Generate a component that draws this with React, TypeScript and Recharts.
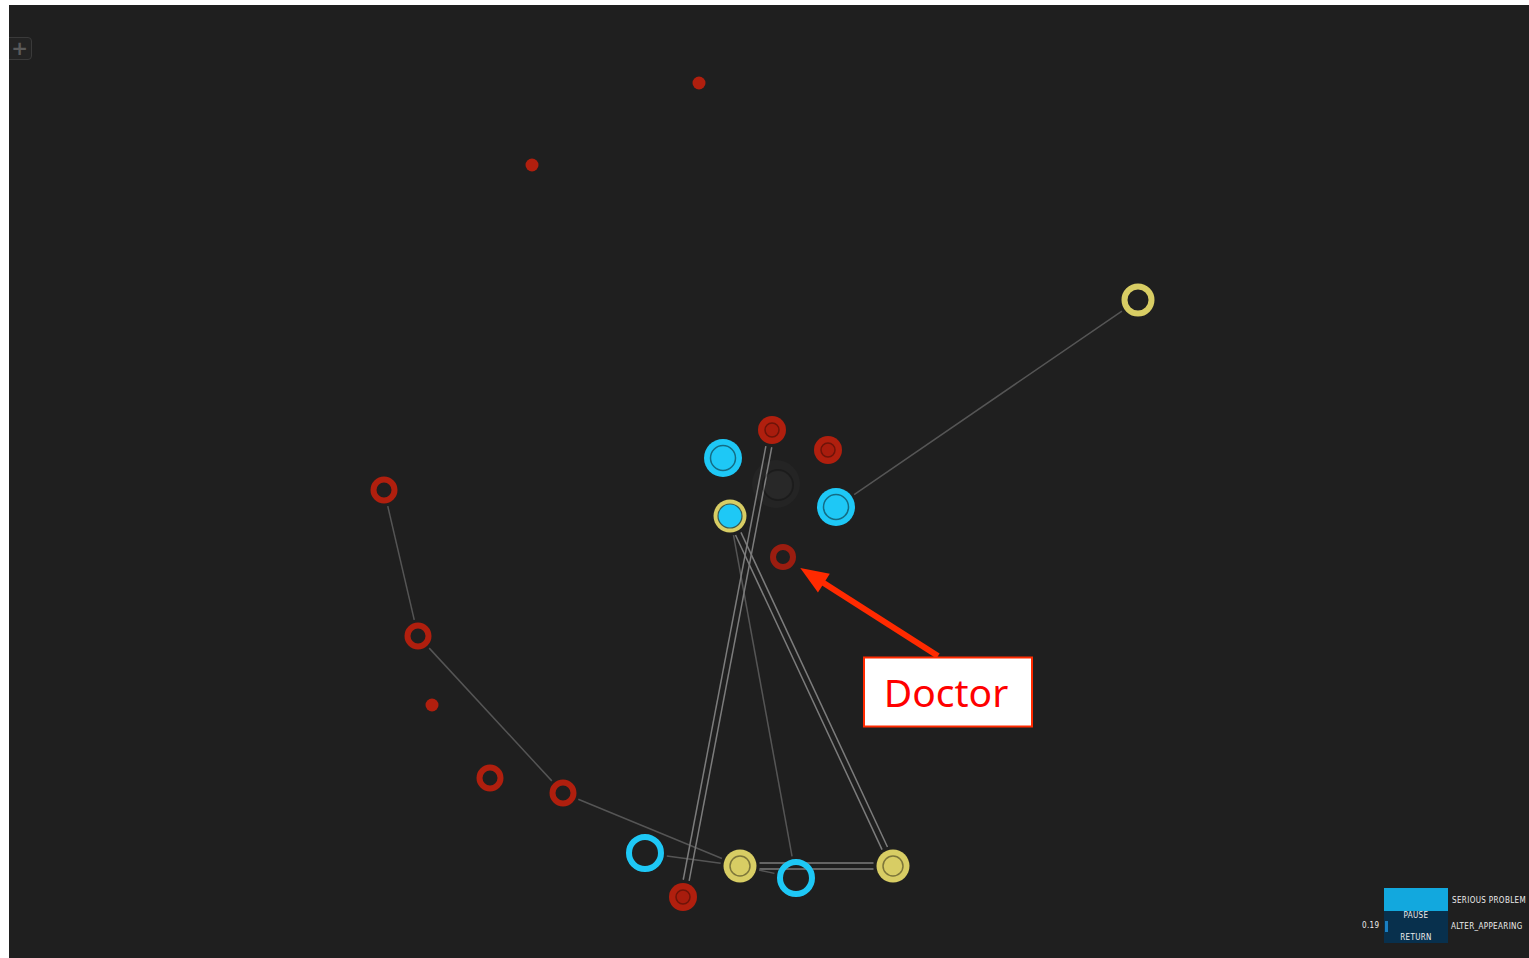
import React from "react";
import { ScatterChart, Scatter, XAxis, YAxis, ReferenceLine, ReferenceDot } from "recharts";

const W = 1520;
const H = 953;
const LEFT = 9;
const TOP = 5;

// graph nodes (layout position in screen units)
const nodeX = [699, 532, 1138, 772, 828, 723, 776, 836, 730, 783, 384, 418, 432, 490, 563, 645, 740, 796, 893, 683];
const nodeY = [83, 165, 300, 430, 450, 458, 484, 507, 516, 557, 490, 636, 705, 778, 793, 853, 866, 878, 866, 897];
const nodeKind = [
  "dot", "dot", "yellowRing", "redCore", "redCore", "blueCore", "ghost", "blueCore", "yellowBlue", "redRingDim",
  "redRing", "redRing", "dot", "redRing", "redRing", "blueRing", "yellowCore", "blueRing", "yellowCore", "redCore",
];

// links between nodes (indices), double = two parallel links
const edgeFrom = [2, 10, 11, 14, 15, 16, 16, 8, 8, 3];
const edgeTo = [7, 11, 14, 16, 16, 18, 17, 17, 18, 19];
const edgeDouble = [false, false, false, false, false, true, false, false, true, true];

// annotation
const noteText = "Doctor";
const noteTarget = 9;
const noteAnchor = { x: 948, y: 692 };

// legend
const legendValue = "0.19";
const legendTop = "SERIOUS PROBLEM";
const legendBottom = "ALTER_APPEARING";
const legendButtons = ["PAUSE", "RETURN"];

const RED = "#b01f0e";
const BLUE = "#1ec8f6";
const YELLOW = "#d8cd64";

const radius: Record<string, number> = {
  dot: 6.5, redRing: 13.5, redRingDim: 13.5, redCore: 14, blueCore: 19, blueRing: 19,
  yellowRing: 16.5, yellowCore: 16.5, yellowBlue: 16.5, ghost: 24,
};

const nodes = nodeX.map((x, i) => ({ x, y: nodeY[i], kind: nodeKind[i] }));

function Node(p: any) {
  const { cx, cy } = p;
  const kind = p.payload.kind;
  switch (kind) {
    case "dot":
      return <circle cx={cx} cy={cy} r={6.5} fill={RED} />;
    case "redRing":
      return <circle cx={cx} cy={cy} r={10.5} fill="none" stroke={RED} strokeWidth={6} />;
    case "redRingDim":
      return <circle cx={cx} cy={cy} r={10} fill="none" stroke="#9b1d10" strokeWidth={6} />;
    case "redCore":
      return (
        <g>
          <circle cx={cx} cy={cy} r={14} fill={RED} />
          <circle cx={cx} cy={cy} r={7} fill="#a81c0d" stroke="#6e1409" strokeWidth={1.5} />
        </g>
      );
    case "blueCore":
      return (
        <g>
          <circle cx={cx} cy={cy} r={19} fill={BLUE} />
          <circle cx={cx} cy={cy} r={12.5} fill={BLUE} stroke="#146c85" strokeWidth={1.5} />
        </g>
      );
    case "blueRing":
      return <circle cx={cx} cy={cy} r={16} fill="none" stroke={BLUE} strokeWidth={6} />;
    case "yellowRing":
      return <circle cx={cx} cy={cy} r={13.5} fill="none" stroke={YELLOW} strokeWidth={6} />;
    case "yellowCore":
      return (
        <g>
          <circle cx={cx} cy={cy} r={16.5} fill={YELLOW} />
          <circle cx={cx} cy={cy} r={10} fill={YELLOW} stroke="#7d763a" strokeWidth={1.5} />
        </g>
      );
    case "yellowBlue":
      return (
        <g>
          <circle cx={cx} cy={cy} r={16.5} fill={YELLOW} />
          <circle cx={cx} cy={cy} r={12} fill={BLUE} stroke="#3a5a50" strokeWidth={1.2} />
        </g>
      );
    case "ghost":
      return (
        <g>
          <circle cx={cx} cy={cy} r={24} fill="rgba(255,255,255,0.025)" />
          <circle cx={cx + 2} cy={cy + 1} r={15} fill="rgba(255,255,255,0.02)" stroke="rgba(0,0,0,0.25)" strokeWidth={2} />
        </g>
      );
    default:
      return <g />;
  }
}

function edgeShape(r1: number, r2: number, dbl: boolean) {
  return (p: any) => {
    const { x1, y1, x2, y2 } = p;
    const dx = x2 - x1;
    const dy = y2 - y1;
    const len = Math.hypot(dx, dy) || 1;
    const ux = dx / len;
    const uy = dy / len;
    const ax = x1 + ux * (r1 + 3);
    const ay = y1 + uy * (r1 + 3);
    const bx = x2 - ux * (r2 + 3);
    const by = y2 - uy * (r2 + 3);
    const offs = dbl ? [-3, 3] : [0];
    return (
      <g>
        {offs.map((o) => (
          <line
            key={o}
            x1={ax - uy * o}
            y1={ay + ux * o}
            x2={bx - uy * o}
            y2={by + ux * o}
            stroke={dbl ? "#7c7c7c" : "#555555"}
            strokeWidth={1.5}
          />
        ))}
      </g>
    );
  };
}

function arrowShape(p: any) {
  const { x1, y1, x2, y2 } = p;
  const dx = x2 - x1;
  const dy = y2 - y1;
  const len = Math.hypot(dx, dy) || 1;
  const ux = dx / len;
  const uy = dy / len;
  const head = 28;
  const half = 11;
  const bx = x2 - ux * head;
  const by = y2 - uy * head;
  return (
    <g>
      <line x1={x1} y1={y1} x2={bx + ux * 4} y2={by + uy * 4} stroke="#ff2a00" strokeWidth={6} />
      <polygon
        points={`${x2},${y2} ${bx - uy * half},${by + ux * half} ${bx + uy * half},${by - ux * half}`}
        fill="#ff2a00"
      />
    </g>
  );
}

function NoteBox(p: any) {
  const { cx, cy } = p;
  return (
    <g>
      <rect x={cx - 84} y={cy - 34.5} width={168} height={69} fill="#ffffff" stroke="#ff2a00" strokeWidth={2} />
      <text
        x={cx - 2}
        y={cy + 15}
        textAnchor="middle"
        fontFamily="'Noto Sans', 'Open Sans', sans-serif"
        fontSize={39}
        fill="#ff0000"
      >
        {noteText}
      </text>
    </g>
  );
}

const px = (x: number) => x - LEFT;
const py = (y: number) => y - TOP;

const legendFont: React.CSSProperties = {
  position: "absolute",
  fontFamily: "'DejaVu Sans Condensed', 'DejaVu Sans', sans-serif",
  fontSize: 8,
  letterSpacing: 0.35,
  color: "#ececec",
  lineHeight: "10px",
  whiteSpace: "nowrap",
};

export default function App() {
  const tgt = nodes[noteTarget];
  const tgtR = radius[tgt.kind];
  const ax = noteAnchor.x - 10;
  const ay = noteAnchor.y - 36;
  const dx = tgt.x - ax;
  const dy = tgt.y - ay;
  const d = Math.hypot(dx, dy);
  const tipX = tgt.x - (dx / d) * (tgtR + 7);
  const tipY = tgt.y - (dy / d) * (tgtR + 7);

  return (
    <div
      style={{
        position: "absolute",
        left: LEFT,
        top: TOP,
        width: W,
        height: H,
        background: "#1f1f1f",
        overflow: "hidden",
      }}
    >
      <ScatterChart width={W} height={H} margin={{ top: 0, right: 0, bottom: 0, left: 0 }}>
        <XAxis type="number" dataKey="x" domain={[LEFT, LEFT + W]} hide allowDataOverflow />
        <YAxis type="number" dataKey="y" domain={[TOP, TOP + H]} reversed hide allowDataOverflow />
        {edgeFrom.map((f, i) => {
          const a = nodes[f];
          const b = nodes[edgeTo[i]];
          return (
            <ReferenceLine
              key={`e${i}`}
              segment={[{ x: a.x, y: a.y }, { x: b.x, y: b.y }]}
              ifOverflow="visible"
              shape={edgeShape(radius[a.kind], radius[b.kind], edgeDouble[i])}
            />
          );
        })}
        <Scatter data={nodes} shape={Node} isAnimationActive={false} />
        <ReferenceLine
          segment={[{ x: ax, y: ay }, { x: tipX, y: tipY }]}
          ifOverflow="visible"
          shape={arrowShape}
        />
        <ReferenceDot x={noteAnchor.x} y={noteAnchor.y} ifOverflow="visible" shape={NoteBox} />
      </ScatterChart>

      {/* zoom button */}
      <div
        style={{
          position: "absolute",
          left: -4,
          top: py(37),
          width: 27,
          height: 23,
          border: "1.5px solid #3a3a3a",
          borderRadius: 4,
          background: "#232323",
          color: "#5a5a5a",
          fontFamily: "'DejaVu Sans', sans-serif",
          fontWeight: "bold",
          fontSize: 20,
          lineHeight: "21px",
          textAlign: "right",
          paddingRight: 3,
          boxSizing: "border-box",
        }}
      >
        +
      </div>

      {/* legend */}
      <div style={{ position: "absolute", left: px(1384), top: py(888), width: 64, height: 23, background: "#12a8de" }} />
      <div style={{ position: "absolute", left: px(1384), top: py(911), width: 64, height: 32, background: "#08304d" }} />
      <div style={{ position: "absolute", left: px(1385), top: py(921), width: 3, height: 11, background: "#1a7fc2" }} />
      <div style={{ ...legendFont, left: px(1384), top: py(911), width: 64, textAlign: "center" }}>{legendButtons[0]}</div>
      <div style={{ ...legendFont, left: px(1384), top: py(933), width: 64, textAlign: "center" }}>{legendButtons[1]}</div>
      <div style={{ ...legendFont, left: px(1362), top: py(921) }}>{legendValue}</div>
      <div style={{ ...legendFont, left: px(1452), top: py(896) }}>{legendTop}</div>
      <div style={{ ...legendFont, left: px(1451), top: py(922) }}>{legendBottom}</div>
    </div>
  );
}
